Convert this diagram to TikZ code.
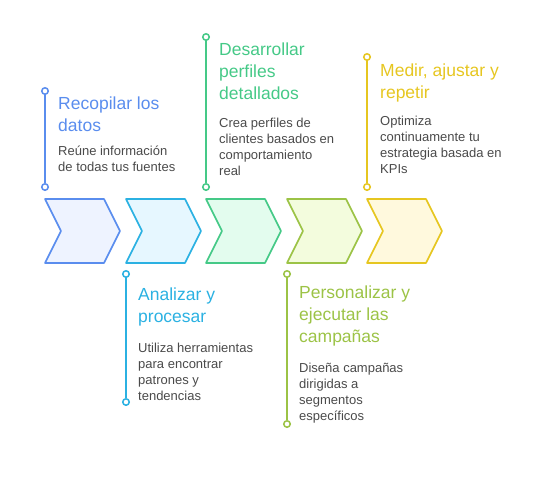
\documentclass[tikz,border=0pt]{standalone}
\usepackage{fontspec}
\setmainfont{Liberation Sans}
\usetikzlibrary{positioning}

\definecolor{blueline}{HTML}{5A8DEE}
\definecolor{bluefill}{HTML}{EEF3FF}
\definecolor{cyanline}{HTML}{2BB1E2}
\definecolor{cyanfill}{HTML}{E6F7FF}
\definecolor{greenline}{HTML}{45C987}
\definecolor{greenfill}{HTML}{E3FCEE}
\definecolor{limeline}{HTML}{9CC346}
\definecolor{limefill}{HTML}{F3FCDD}
\definecolor{yellline}{HTML}{E6C620}
\definecolor{yellfill}{HTML}{FFF9DD}
\definecolor{bodygray}{HTML}{4A4A4A}

\begin{document}
\begin{tikzpicture}[
  x=1pt, y=-1pt,
  chevron/.style={line width=1.6pt, line join=round},
  stem/.style={line width=1.8pt},
  dot/.style={circle, draw, fill=white, line width=1.5pt, minimum size=6.5pt, inner sep=0pt},
  title/.style={anchor=base west, align=left, inner sep=0pt, font=\fontsize{17.5}{22}\selectfont},
  body/.style={anchor=base west, align=left, inner sep=0pt, text=bodygray, font=\fontsize{13}{16}\selectfont}
]
\useasboundingbox (0,0) rectangle (550,480);

% chevrons
\foreach \x/\c in {45/blue, 126/cyan, 206/green, 287/lime, 367/yell}
  \filldraw[chevron, draw=\c line, fill=\c fill] (\x,199) -- ++(59,0) -- ++(16,32)
    -- ++(-16,32) -- ++(-59,0) -- ++(16,-32) -- cycle;

% stems
\node[dot, draw=blueline] (s1top) at (45,91) {};
\node[dot, draw=blueline] (s1bot) at (45,187) {};
\node[dot, draw=cyanline] (s2top) at (126,274) {};
\node[dot, draw=cyanline] (s2bot) at (126,402) {};
\node[dot, draw=greenline] (s3top) at (206,37) {};
\node[dot, draw=greenline] (s3bot) at (206,187) {};
\node[dot, draw=limeline] (s4top) at (287,274) {};
\node[dot, draw=limeline] (s4bot) at (287,424) {};
\node[dot, draw=yellline] (s5top) at (367,57) {};
\node[dot, draw=yellline] (s5bot) at (367,187) {};

\draw[stem, blueline] (s1top) -- (s1bot);
\draw[stem, cyanline] (s2top) -- (s2bot);
\draw[stem, greenline] (s3top) -- (s3bot);
\draw[stem, limeline] (s4top) -- (s4bot);
\draw[stem, yellline] (s5top) -- (s5bot);

% texts (placed at the baseline of their last line)
\node[title, text=blueline] (t1) at (58,131) {Recopilar los\\datos};
\node[body] (b1) at (58,171) {Reúne información\\de todas tus fuentes};

\node[title, text=cyanline] (t2) at (138,322) {Analizar y\\procesar};
\node[body] (b2) at (138,400) {Utiliza herramientas\\para encontrar\\patrones y\\tendencias};

\node[title, text=greenline] (t3) at (219,99) {Desarrollar\\perfiles\\detallados};
\node[body] (b3) at (219,175) {Crea perfiles de\\clientes basados en\\comportamiento\\real};

\node[title, text=limeline] (t4) at (299,342) {Personalizar y\\ejecutar las\\campañas};
\node[body] (b4) at (299,420) {Diseña campañas\\dirigidas a\\segmentos\\específicos};

\node[title, text=yellline] (t5) at (380,98) {Medir, ajustar y\\repetir};
\node[body] (b5) at (380,173) {Optimiza\\continuamente tu\\estrategia basada en\\KPIs};
\end{tikzpicture}
\end{document}
